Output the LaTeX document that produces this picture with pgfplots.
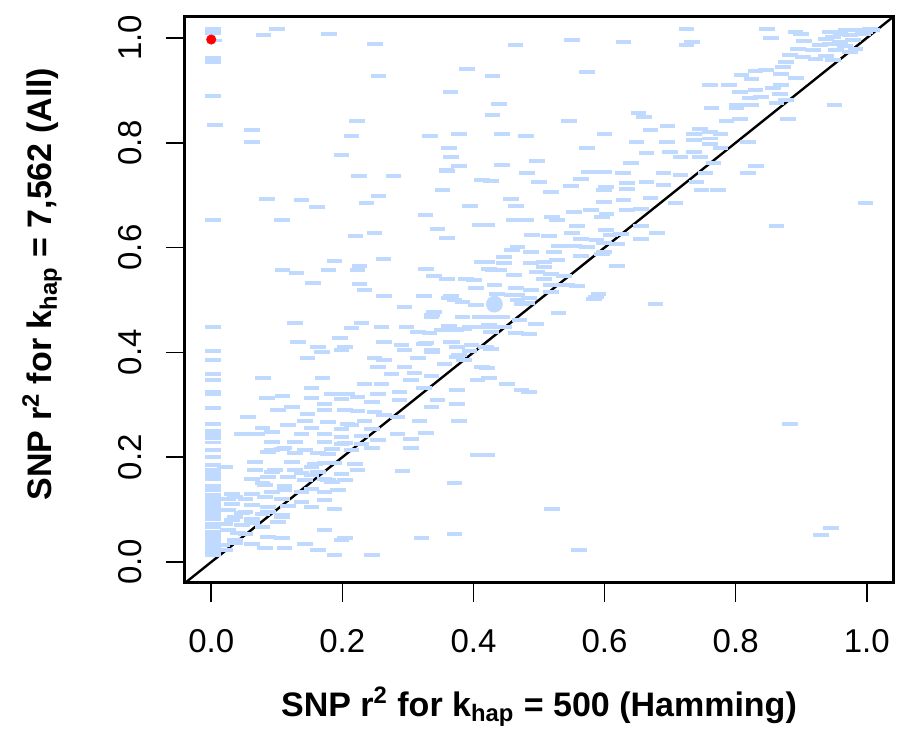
\documentclass[border=0pt]{standalone}
\usepackage{fontspec}
\setmainfont{Liberation Sans}
\usepackage{pgfplots}
\pgfplotsset{compat=1.18}
\definecolor{ptblue}{RGB}{192,217,255}
\begin{document}
\begin{tikzpicture}
\begin{axis}[name=ax,
  scale only axis, width=354pt, height=283pt,
  xmin=-0.04, xmax=1.04, ymin=-0.04, ymax=1.04,
  xtick={0,0.2,0.4,0.6,0.8,1.0}, ytick={0,0.2,0.4,0.6,0.8,1.0},
  xtick pos=bottom, ytick pos=left, tick align=outside,
  major tick length=9.5pt,
  every tick/.style={black, line width=0.8pt},
  axis line style={line width=1.5pt},
  /pgf/number format/assume math mode=true,
  /pgf/number format/.cd, fixed, fixed zerofill, precision=1, /pgfplots/.cd,
  tick label style={font=\fontsize{16.5}{19}\selectfont},
  xticklabel style={anchor=north, yshift=-10pt},
  yticklabel style={xshift=-8.5pt, rotate=90, anchor=south},
  xlabel={\bfseries SNP r\textsuperscript{2} for k\textsubscript{hap} = 500 (Hamming)},
  ylabel={\bfseries SNP r\textsuperscript{2} for k\textsubscript{hap} = 7,562 (All)},
  every axis x label/.style={at={([yshift=-62pt]axis description cs:0.5,0)}, anchor=center, font=\fontsize{17}{20}\selectfont},
  every axis y label/.style={at={([xshift=-71.5pt,yshift=8pt]axis description cs:0,0.5)}, rotate=90, anchor=center, font=\fontsize{17}{20}\selectfont},
]
\addplot[only marks, mark=-, mark size=3.9pt, mark options={line width=1.9pt, color=ptblue}] table {
x y
0.003 1.017
0.003 1.010
0.005 0.995
0.10 1.017
0.08 1.006
0.18 1.008
0.25 0.989
0.003 0.962
0.003 0.954
0.39 0.941
0.255 0.927
0.003 0.889
0.365 0.897
0.006 0.834
0.222 0.842
0.062 0.824
0.214 0.813
0.334 0.813
0.378 0.817
0.062 0.802
0.199 0.777
0.363 0.790
0.366 0.773
0.378 0.756
0.36 0.746
0.359 0.748
0.225 0.737
0.278 0.737
0.413 0.729
0.353 0.71
0.255 0.698
0.085 0.693
0.138 0.691
0.237 0.685
0.161 0.677
0.395 0.679
0.003 0.653
0.108 0.653
0.327 0.662
0.41 0.643
0.345 0.635
0.249 0.628
0.220 0.622
0.36 0.618
0.188 0.574
0.263 0.578
0.226 0.565
0.109 0.557
0.130 0.552
0.179 0.557
0.223 0.557
0.328 0.559
0.412 0.573
0.340 0.546
0.36 0.54
0.389 0.54
0.401 0.538
0.155 0.532
0.226 0.531
0.234 0.519
0.404 0.523
0.264 0.508
0.325 0.508
0.366 0.508
0.424 0.559
0.439 0.557
0.363 0.504
0.383 0.496
0.404 0.49
0.459 0.51
0.485 0.504
0.474 0.492
0.518 0.515
0.587 0.506
0.337 0.471
0.383 0.468
0.409 0.468
0.444 0.468
0.47 0.462
0.495 0.454
0.363 0.45
0.394 0.448
0.424 0.452
0.333 0.437
0.374 0.443
0.427 0.439
0.465 0.437
0.485 0.435
0.368 0.42
0.328 0.418
0.419 0.41
0.337 0.401
0.394 0.403
0.378 0.395
0.53 0.475
0.678 0.492
0.584 0.502
0.467 0.5
0.482 0.494
0.427 0.468
0.427 0.448
0.447 0.448
0.427 0.406
0.421 0.37
0.424 0.351
0.451 0.34
0.473 0.328
0.485 0.324
0.421 0.204
0.883 0.263
0.52 0.101
0.945 0.065
0.93 0.052
0.561 0.023
0.295 0.487
0.725 1.017
0.848 1.017
0.891 1.011
0.9 1.008
0.854 1.0
0.904 0.994
0.464 0.987
0.55 0.996
0.629 0.992
0.733 0.992
0.725 0.987
0.944 1.011
0.968 1.015
0.989 1.015
1.005 1.017
0.948 1.002
0.974 1.006
0.994 1.008
0.959 0.992
0.979 0.996
0.998 1.011
0.944 0.989
0.967 0.985
0.983 0.979
0.953 0.977
0.918 0.977
0.929 0.987
0.938 0.998
1.009 1.015
0.974 0.973
0.96 1.008
0.895 0.979
0.883 0.968
0.903 0.964
0.922 0.96
0.938 0.966
0.948 0.958
0.877 0.954
0.872 0.945
0.83 0.937
0.846 0.939
0.809 0.929
0.824 0.922
0.869 0.931
0.892 0.924
0.429 0.927
0.573 0.935
0.761 0.91
0.79 0.91
0.869 0.91
0.857 0.905
0.807 0.897
0.83 0.901
0.868 0.893
0.822 0.885
0.839 0.887
0.801 0.872
0.824 0.872
0.862 0.876
0.877 0.882
0.763 0.866
0.951 0.872
0.801 0.866
0.439 0.874
0.429 0.853
0.652 0.857
0.66 0.849
0.546 0.842
0.786 0.842
0.807 0.845
0.88 0.845
0.696 0.832
0.67 0.824
0.746 0.826
0.761 0.82
0.777 0.817
0.736 0.817
0.444 0.817
0.48 0.813
0.6 0.817
0.761 0.808
0.736 0.805
0.649 0.802
0.695 0.802
0.819 0.802
0.761 0.798
0.573 0.79
0.777 0.79
0.664 0.781
0.7 0.782
0.736 0.782
0.716 0.773
0.746 0.773
0.64 0.761
0.497 0.765
0.444 0.758
0.766 0.761
0.831 0.756
0.819 0.742
0.482 0.742
0.576 0.744
0.599 0.744
0.628 0.742
0.69 0.742
0.716 0.739
0.754 0.742
0.427 0.727
0.5 0.725
0.564 0.731
0.634 0.723
0.664 0.725
0.69 0.719
0.74 0.725
0.549 0.718
0.602 0.716
0.518 0.706
0.599 0.71
0.634 0.712
0.748 0.71
0.773 0.71
0.457 0.693
0.67 0.695
0.629 0.691
0.599 0.687
0.708 0.685
0.998 0.685
0.465 0.679
0.579 0.672
0.603 0.664
0.553 0.668
0.634 0.672
0.656 0.674
0.462 0.653
0.48 0.653
0.52 0.658
0.527 0.653
0.596 0.658
0.421 0.643
0.558 0.641
0.656 0.641
0.862 0.641
0.602 0.634
0.55 0.628
0.489 0.624
0.515 0.622
0.68 0.628
0.609 0.624
0.625 0.626
0.656 0.616
0.564 0.616
0.588 0.615
0.467 0.601
0.53 0.603
0.553 0.603
0.573 0.601
0.599 0.609
0.619 0.607
0.488 0.592
0.523 0.592
0.599 0.592
0.459 0.595
0.564 0.584
0.596 0.588
0.447 0.582
0.421 0.573
0.447 0.571
0.488 0.571
0.508 0.573
0.527 0.576
0.619 0.565
0.508 0.563
0.429 0.557
0.462 0.548
0.497 0.553
0.518 0.55
0.538 0.546
0.508 0.54
0.558 0.527
0.432 0.529
0.465 0.523
0.488 0.519
0.518 0.529
0.543 0.529
0.591 0.511
0.436 0.511
0.467 0.51
0.003 0.448
0.003 0.403
0.003 0.385
0.003 0.359
0.003 0.347
0.003 0.324
0.003 0.321
0.003 0.294
0.003 0.263
0.003 0.244
0.003 0.237
0.003 0.214
0.003 0.185
0.003 0.176
0.003 0.166
0.003 0.158
0.003 0.137
0.003 0.128
0.003 0.120
0.003 0.111
0.003 0.105
0.003 0.095
0.003 0.082
0.003 0.067
0.003 0.053
0.003 0.048
0.003 0.038
0.003 0.032
0.003 0.023
0.003 0.013
0.003 0.018
0.003 0.028
0.003 0.043
0.003 0.058
0.003 0.072
0.003 0.088
0.003 0.100
0.003 0.115
0.003 0.125
0.003 0.145
0.003 0.170
0.003 0.200
0.003 0.228
0.003 0.250
0.128 0.456
0.229 0.456
0.214 0.447
0.26 0.448
0.298 0.448
0.336 0.468
0.34 0.477
0.371 0.5
0.315 0.439
0.351 0.443
0.386 0.445
0.406 0.448
0.196 0.427
0.132 0.42
0.264 0.42
0.29 0.414
0.325 0.416
0.366 0.42
0.163 0.41
0.204 0.41
0.169 0.401
0.199 0.405
0.295 0.405
0.337 0.405
0.375 0.41
0.397 0.414
0.147 0.389
0.249 0.389
0.264 0.385
0.315 0.389
0.374 0.391
0.386 0.385
0.254 0.372
0.295 0.372
0.356 0.378
0.413 0.372
0.079 0.351
0.17 0.351
0.275 0.359
0.31 0.361
0.336 0.355
0.406 0.347
0.234 0.34
0.305 0.347
0.153 0.332
0.26 0.34
0.325 0.332
0.375 0.328
0.184 0.321
0.208 0.321
0.254 0.321
0.287 0.324
0.085 0.313
0.109 0.317
0.153 0.313
0.199 0.311
0.223 0.315
0.245 0.305
0.287 0.309
0.345 0.309
0.375 0.302
0.173 0.302
0.102 0.29
0.123 0.296
0.147 0.282
0.173 0.29
0.204 0.29
0.223 0.288
0.249 0.286
0.264 0.281
0.284 0.277
0.336 0.296
0.056 0.277
0.143 0.269
0.178 0.267
0.208 0.263
0.234 0.269
0.318 0.269
0.378 0.269
0.078 0.256
0.117 0.261
0.153 0.256
0.199 0.254
0.214 0.261
0.245 0.254
0.047 0.244
0.07 0.244
0.093 0.248
0.138 0.244
0.173 0.244
0.199 0.239
0.229 0.24
0.284 0.244
0.328 0.246
0.406 0.204
0.093 0.229
0.128 0.229
0.173 0.229
0.199 0.225
0.229 0.225
0.254 0.233
0.305 0.235
0.108 0.216
0.143 0.214
0.184 0.216
0.214 0.214
0.245 0.218
0.305 0.218
0.087 0.21
0.128 0.208
0.178 0.206
0.067 0.191
0.123 0.191
0.158 0.187
0.188 0.189
0.219 0.187
0.021 0.181
0.067 0.176
0.097 0.176
0.128 0.176
0.163 0.172
0.199 0.168
0.223 0.176
0.292 0.174
0.062 0.158
0.087 0.162
0.117 0.162
0.143 0.156
0.173 0.158
0.184 0.153
0.371 0.151
0.082 0.147
0.112 0.145
0.153 0.139
0.032 0.13
0.062 0.13
0.093 0.134
0.112 0.137
0.138 0.134
0.193 0.137
0.026 0.12
0.052 0.12
0.082 0.124
0.108 0.12
0.032 0.111
0.062 0.109
0.087 0.105
0.117 0.107
0.153 0.105
0.188 0.101
0.026 0.099
0.052 0.095
0.078 0.092
0.108 0.09
0.036 0.086
0.062 0.082
0.102 0.076
0.021 0.073
0.047 0.071
0.078 0.067
0.026 0.061
0.052 0.053
0.173 0.061
0.087 0.048
0.108 0.046
0.204 0.046
0.321 0.046
0.371 0.053
0.036 0.042
0.062 0.034
0.143 0.034
0.017 0.032
0.021 0.023
0.163 0.023
0.188 0.013
0.245 0.013
0.093 0.214
0.112 0.218
0.163 0.208
0.204 0.227
0.153 0.181
0.173 0.189
0.093 0.172
0.138 0.17
0.078 0.151
0.153 0.166
0.178 0.156
0.204 0.156
0.173 0.134
0.036 0.124
0.138 0.115
0.173 0.118
0.047 0.093
0.087 0.095
0.108 0.086
0.032 0.08
0.062 0.074
0.041 0.055
0.036 0.036
0.199 0.042
0.082 0.027
0.112 0.027
};
\addplot[only marks, mark=*, mark size=4pt, color=ptblue] coordinates {(0.432,0.492)};
\addplot[black, line width=1.2pt] coordinates {(-0.04,-0.04) (1.04,1.04)};
\addplot[only marks, mark=*, mark size=2.3pt, color=red] coordinates {(0,0.997)};
\end{axis}
\pgfresetboundingbox
\path ([shift={(-92.5pt,-74pt)}]ax.south west) rectangle ([shift={(2pt,8.5pt)}]ax.north east);
\end{tikzpicture}
\end{document}
